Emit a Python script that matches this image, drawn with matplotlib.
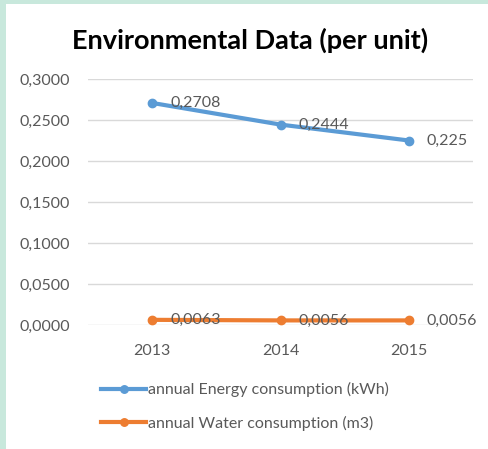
import matplotlib
matplotlib.use('Agg')
import matplotlib.pyplot as plt
from matplotlib.patches import Rectangle

years = ['2013', '2014', '2015']
energy = [0.2708, 0.2444, 0.225]
water = [0.0063, 0.0056, 0.0056]
energy_labels = ['0,2708', '0,2444', '0,225']
water_labels = ['0,0063', '0,0056', '0,0056']
yticks = [0.0, 0.05, 0.10, 0.15, 0.20, 0.25, 0.30]

W, H = 488, 449
plt.rcParams['font.family'] = ['Lato', 'DejaVu Sans']
grey = '#595959'
fs = 11.5

fig = plt.figure(figsize=(W/100, H/100), dpi=100)
fig.patch.set_facecolor('#c8e8dc')
fig.patches.append(Rectangle((6/W, 0), 1, (H-4)/H, transform=fig.transFigure,
                             facecolor='white', edgecolor='none', zorder=-5))

ax = fig.add_axes([88/W, 1-325/H, (473-88)/W, (325-79)/H])
ax.set_facecolor('none')
x = list(range(len(years)))
ax.plot(x, energy, '-o', color='#5b9bd5', lw=3, ms=6, label='annual Energy consumption (kWh)', zorder=3)
ax.plot(x, water, '-o', color='#ed7d31', lw=3, ms=6, label='annual Water consumption (m3)', zorder=3)
for i in x:
    ax.annotate(energy_labels[i], (i, energy[i]), xytext=(13, 0), textcoords='offset points',
                va='center', ha='left', fontsize=fs, color=grey, zorder=4)
    ax.annotate(water_labels[i], (i, water[i]), xytext=(13, 0), textcoords='offset points',
                va='center', ha='left', fontsize=fs, color=grey, zorder=4)

ax.set_xlim(-0.5, 2.5)
ax.set_ylim(0, 0.30)
ax.set_yticks(yticks)
ax.set_yticklabels([('%.4f' % v).replace('.', ',') for v in yticks])
ax.set_xticks(x)
ax.set_xticklabels(years)
ax.grid(axis='y', color='#d9d9d9', lw=1)
ax.set_axisbelow(True)
for s in ax.spines.values():
    s.set_visible(False)
ax.tick_params(length=0, labelsize=fs, labelcolor=grey)
ax.tick_params(axis='y', pad=13)
ax.tick_params(axis='x', pad=14)

fig.text(250/W, 1-40/H, 'Environmental Data (per unit)', ha='center', va='center',
         fontsize=19.5, fontweight='bold', color='black')

ax.legend(loc='upper left', bbox_to_anchor=(87/W, 1-368/H), bbox_transform=fig.transFigure,
          frameon=False, fontsize=fs, labelcolor=grey, handlelength=2.8, handletextpad=0.1,
          labelspacing=1.15, markerscale=0.9)

fig.savefig('out.png', dpi=100)
